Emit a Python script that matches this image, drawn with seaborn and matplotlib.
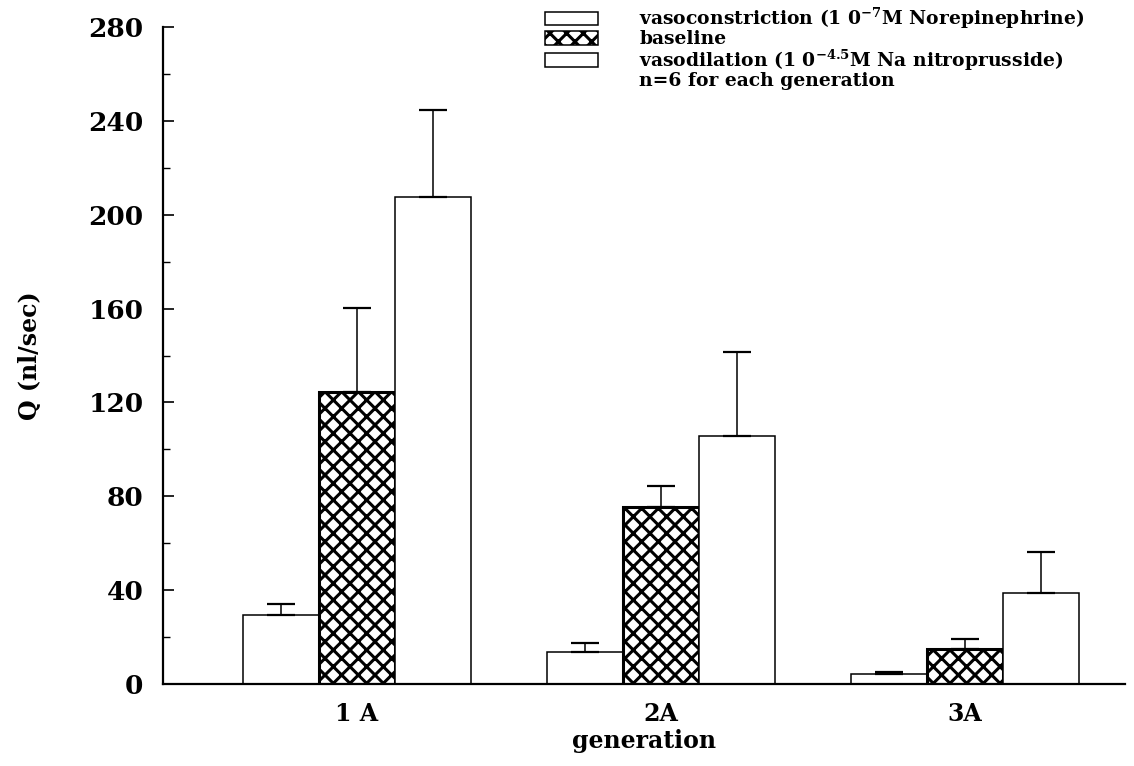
import numpy as np
import pandas as pd
import matplotlib
matplotlib.use("Agg")
import matplotlib.pyplot as plt
from matplotlib.patches import Patch
import seaborn as sns

# Flow per generation (mean and upper error, nl/sec)
generations = ["1 A", "2A", "3A"]
conditions = ["vasoconstriction", "baseline", "vasodilation"]
vasoconstriction = [29.4, 13.6, 4.3]
baseline = [124.5, 75.4, 15.0]
vasodilation = [207.6, 105.7, 38.9]
vasoconstriction_err = [4.7, 3.9, 0.8]
baseline_err = [35.8, 9.0, 4.2]
vasodilation_err = [37.1, 35.8, 17.4]
legend_labels = [
    r"vasoconstriction (1 0$^{-7}$M Norepinephrine)",
    "baseline",
    r"vasodilation (1 0$^{-4.5}$M Na nitroprusside)",
    "n=6 for each generation",
]
y_ticks = [0, 40, 80, 120, 160, 200, 240, 280]

sns.set_theme(style="white")
plt.rcParams["font.family"] = ["DejaVu Serif"]
plt.rcParams["text.color"] = "black"
plt.rcParams["axes.labelcolor"] = "black"
plt.rcParams["xtick.color"] = "black"
plt.rcParams["ytick.color"] = "black"
plt.rcParams["mathtext.fontset"] = "custom"
plt.rcParams["mathtext.rm"] = "DejaVu Serif:bold"
plt.rcParams["mathtext.it"] = "DejaVu Serif:bold"
plt.rcParams["mathtext.bf"] = "DejaVu Serif:bold"
plt.rcParams["hatch.linewidth"] = 2.2
plt.rcParams["hatch.color"] = "black"

means = [vasoconstriction, baseline, vasodilation]
errs = [vasoconstriction_err, baseline_err, vasodilation_err]
rows = []
for cond, vals in zip(conditions, means):
    for g, v in zip(generations, vals):
        rows.append({"generation": g, "condition": cond, "Q": v})
df = pd.DataFrame(rows)

fig = plt.figure(figsize=(11.34, 7.66), dpi=100)
ax = fig.add_axes([163 / 1134, 82 / 766, (1125 - 163) / 1134, (684 - 27) / 766])

sns.barplot(data=df, x="generation", y="Q", hue="condition",
            hue_order=conditions, order=generations,
            palette=["white"] * 3, edgecolor="black", linewidth=1.1,
            width=0.75, errorbar=None, legend=False, ax=ax, saturation=1)

bar_containers = list(ax.containers)
for i, container in enumerate(bar_containers):
    xs = [b.get_x() + b.get_width() / 2 for b in container]
    if i == 1:
        for b in container:
            b.set_hatch("xx")
            b.set_linewidth(2.2)
    ax.errorbar(xs, means[i], yerr=[np.zeros(len(xs)), errs[i]],
                fmt="none", ecolor="black", elinewidth=1.1,
                capsize=10, capthick=1.6, zorder=1)

ax.set_xlim(-0.638, 2.526)
ax.set_ylim(0, 280)
ax.set_yticks(y_ticks)
ax.set_yticks(np.arange(20, 280, 40), minor=True)
ax.tick_params(axis="y", which="major", direction="in", length=8, width=1.2,
               labelsize=19, pad=14, left=True)
ax.tick_params(axis="y", which="minor", direction="in", length=5, width=1.0, left=True)
ax.tick_params(axis="x", length=0, labelsize=17, pad=13)
for lab in ax.get_yticklabels() + ax.get_xticklabels():
    lab.set_fontweight("bold")

for side in ["top", "right"]:
    ax.spines[side].set_visible(False)
for side in ["left", "bottom"]:
    ax.spines[side].set_color("black")
    ax.spines[side].set_linewidth(1.6)

ax.set_xlabel("generation", fontsize=17, fontweight="bold", labelpad=2)
ax.set_ylabel("Q (nl/sec)", fontsize=17, fontweight="bold", labelpad=33)

handles = [
    Patch(facecolor="white", edgecolor="black", linewidth=1.1),
    Patch(facecolor="white", edgecolor="black", linewidth=1.1, hatch="xx"),
    Patch(facecolor="white", edgecolor="black", linewidth=1.1),
    Patch(facecolor="none", edgecolor="none"),
]
leg = fig.legend(handles, legend_labels, loc="upper left",
                 bbox_to_anchor=(545 / 1134, 1 - 6 / 766), frameon=False,
                 prop={"family": "DejaVu Serif", "weight": "bold", "size": 13.5},
                 handlelength=2.83, handleheight=0.75, handletextpad=2.2,
                 labelspacing=-0.04, borderpad=0, borderaxespad=0)

fig.savefig("out.png", dpi=100)
